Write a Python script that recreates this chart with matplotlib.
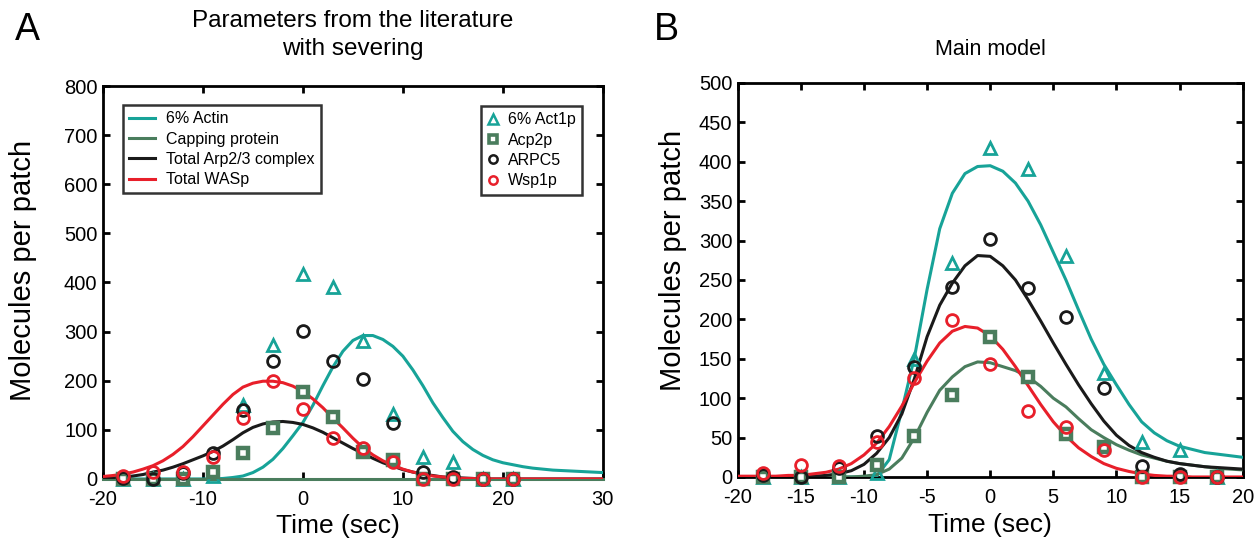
import matplotlib
matplotlib.use("Agg")
import matplotlib.pyplot as plt
import numpy as np
from matplotlib.lines import Line2D

plt.rcParams['font.family'] = ['Liberation Sans', 'DejaVu Sans']
plt.rcParams['axes.unicode_minus'] = False

TEAL = '#17a398'
GREEN = '#4a7d5d'
BLACK = '#1a1a1a'
RED = '#e81f2a'

# experimental points (same in both panels)
t_exp = [-18, -15, -12, -9, -6, -3, 0, 3, 6, 9, 12, 15, 18, 21]
act1p = [0, 0, 0, 5, 150, 272, 417, 391, 280, 132, 45, 34, 0, 0]
acp2p = [0, 0, 0, 15, 52, 104, 177, 127, 55, 38, 0, 0, 0, 0]
arpc5 = [2, 0, 12, 52, 140, 241, 302, 240, 203, 113, 14, 4, 0, 0]
wsp1p = [5, 15, 14, 44, 125, 199, 143, 84, 63, 34, 0, 0, 0, 0]

# panel A model curves, read at 1 s steps from -20 to 30
t_A = list(range(-20, 31))
actin_A = [0, 0, 0, 0, 0, 0, 0, 0, 0, 0, 0, 0, 1, 3, 6, 13, 24, 40, 62, 88,
           115, 150, 190, 228, 260, 282, 292, 292, 284, 270, 250, 222, 190,
           155, 125, 97, 76, 60, 48, 39, 33, 29, 25, 22, 20, 18, 17, 16, 15,
           14, 13]
arp_A = [1, 2, 4, 6, 9, 14, 18, 24, 31, 39, 47, 56, 67, 80, 94, 105, 112, 116,
         117, 115, 111, 104, 95, 84, 73, 62, 52, 42, 33, 26, 19, 14, 10, 7, 4,
         3, 2, 1, 0, 0, 0, 0, 0, 0, 0, 0, 0, 0, 0, 0, 0]
wasp_A = [5, 7, 10, 14, 20, 27, 37, 50, 66, 86, 108, 130, 152, 172, 187, 195,
          199, 199, 196, 189, 178, 163, 145, 124, 104, 83, 64, 49, 37, 28, 20,
          14, 10, 6, 4, 2, 1, 1, 0, 0, 0, 0, 0, 0, 0, 0, 0, 0, 0, 0, 0]
t_cap_A = [-20, 30]
cap_A = [0, 0]

# panel B model curves, read at 1 s steps from -20 to 20
t_B = list(range(-20, 21))
actin_B = [0, 0, 0, 0, 0, 0, 0, 0, 0, 0, 0, 1, 22, 85, 152, 238, 315, 360,
           385, 394, 395, 388, 373, 350, 320, 285, 250, 212, 175, 143, 117, 92,
           70, 56, 46, 39, 35, 31, 29, 27, 25]
cap_B = [0, 0, 0, 0, 0, 0, 0, 0, 0, 0, 1, 3, 10, 24, 50, 82, 110, 127, 140,
         146, 145, 140, 135, 127, 115, 100, 89, 74, 60, 50, 41, 34, 28, 24, 20,
         17, 15, 13, 11, 10, 9]
arp_B = [0, 0, 0, 0, 0, 0, 1, 2, 4, 8, 16, 30, 50, 80, 125, 178, 218, 246, 268,
         281, 280, 268, 250, 225, 198, 170, 143, 117, 93, 71, 53, 40, 31, 25,
         20, 17, 15, 13, 12, 11, 10]
wasp_B = [1, 1, 1, 1, 2, 2, 4, 6, 10, 17, 28, 43, 64, 90, 120, 147, 170, 185,
          191, 189, 179, 162, 140, 116, 92, 70, 52, 37, 26, 17, 11, 7, 4, 2, 1,
          1, 0, 0, 0, 0, 0]

fig = plt.figure(figsize=(12.59, 5.48), dpi=100)
axA = fig.add_axes([0.0818, 0.126, 0.397, 0.717])
axB = fig.add_axes([0.586, 0.1296, 0.401, 0.719])


def draw_points(ax, tmax):
    t = np.array(t_exp)
    keep = t <= tmax
    kw = dict(linestyle='none', clip_on=False, zorder=5)
    ax.plot(t[keep], np.array(act1p)[keep], marker='^', ms=9, mfc='none',
            mec=TEAL, mew=2, **kw)
    ax.plot(t[keep], np.array(acp2p)[keep], marker='s', ms=7.5, mfc='white',
            mec=GREEN, mew=3.2, **kw)
    ax.plot(t[keep], np.array(arpc5)[keep], marker='o', ms=8.5, mfc='none',
            mec=BLACK, mew=2, **kw)
    ax.plot(t[keep], np.array(wsp1p)[keep], marker='o', ms=8.5, mfc='none',
            mec=RED, mew=2, **kw)


def style(ax):
    for s in ax.spines.values():
        s.set_linewidth(2)
    ax.tick_params(direction='in', length=5, width=2, top=True, right=True,
                   labelsize=14.5)
    ax.tick_params(axis='x', pad=8)
    ax.tick_params(axis='y', pad=4)


# panel A
axA.plot(t_A, actin_A, color=TEAL, lw=2.2, zorder=3)
axA.plot(t_cap_A, cap_A, color=GREEN, lw=2.2, zorder=3, clip_on=False)
axA.plot(t_A, arp_A, color=BLACK, lw=2.2, zorder=3)
axA.plot(t_A, wasp_A, color=RED, lw=2.2, zorder=4)
draw_points(axA, 30)
axA.set_xlim(-20, 30)
axA.set_ylim(0, 800)
axA.set_xticks(range(-20, 31, 10))
axA.set_yticks(range(0, 801, 100))
axA.set_xlabel('Time (sec)', fontsize=19)
axA.set_ylabel('Molecules per patch', fontsize=21)
axA.xaxis.set_label_coords(0.471, -0.088)
axA.yaxis.set_label_coords(-0.132, 0.53)
axA.text(0.5, 1.13, 'Parameters from the literature\nwith severing',
         transform=axA.transAxes, ha='center', va='center', fontsize=17.5,
         linespacing=1.3)
style(axA)

line_handles = [Line2D([], [], color=TEAL, lw=2.2),
                Line2D([], [], color=GREEN, lw=2.2),
                Line2D([], [], color=BLACK, lw=2.2),
                Line2D([], [], color=RED, lw=2.2)]
leg1 = axA.legend(line_handles,
                  ['6% Actin', 'Capping protein', 'Total Arp2/3 complex',
                   'Total WASp'],
                  loc='upper left', bbox_to_anchor=(0.04, 0.952), fontsize=11.5,
                  frameon=True, fancybox=False, edgecolor='black',
                  handlelength=1.6, labelspacing=0.33, borderpad=0.4,
                  handletextpad=0.7, borderaxespad=0)
leg1.get_frame().set_linewidth(1.8)
axA.add_artist(leg1)

mark_handles = [Line2D([], [], ls='none', marker='^', ms=6.5, mfc='none',
                       mec=TEAL, mew=1.8),
                Line2D([], [], ls='none', marker='s', ms=5.5, mfc='white',
                       mec=GREEN, mew=2.6),
                Line2D([], [], ls='none', marker='o', ms=6, mfc='none',
                       mec=BLACK, mew=1.8),
                Line2D([], [], ls='none', marker='o', ms=6, mfc='none',
                       mec=RED, mew=1.8)]
leg2 = axA.legend(mark_handles, ['6% Act1p', 'Acp2p', 'ARPC5', 'Wsp1p'],
                  loc='upper right', bbox_to_anchor=(0.958, 0.949),
                  fontsize=11.5, frameon=True, fancybox=False,
                  edgecolor='black', handlelength=0.8, labelspacing=0.33,
                  borderpad=0.4, handletextpad=0.5, borderaxespad=0)
leg2.get_frame().set_linewidth(1.8)

# panel B
axB.plot(t_B, actin_B, color=TEAL, lw=2.2, zorder=3)
axB.plot(t_B, cap_B, color=GREEN, lw=2.2, zorder=3)
axB.plot(t_B, arp_B, color=BLACK, lw=2.2, zorder=3)
axB.plot(t_B, wasp_B, color=RED, lw=2.2, zorder=4)
draw_points(axB, 20)
axB.set_xlim(-20, 20)
axB.set_ylim(0, 500)
axB.set_xticks(range(-20, 21, 5))
axB.set_yticks(range(0, 501, 50))
axB.set_xlabel('Time (sec)', fontsize=19)
axB.set_ylabel('Molecules per patch', fontsize=21)
axB.xaxis.set_label_coords(0.5, -0.092)
axB.yaxis.set_label_coords(-0.101, 0.55)
axB.text(0.5, 1.084, 'Main model', transform=axB.transAxes, ha='center',
         va='center', fontsize=15.5)
style(axB)

fig.text(0.012, 0.927, 'A', fontsize=27, va='baseline')
fig.text(0.519, 0.927, 'B', fontsize=27, va='baseline')

fig.savefig('out.png', dpi=100)
